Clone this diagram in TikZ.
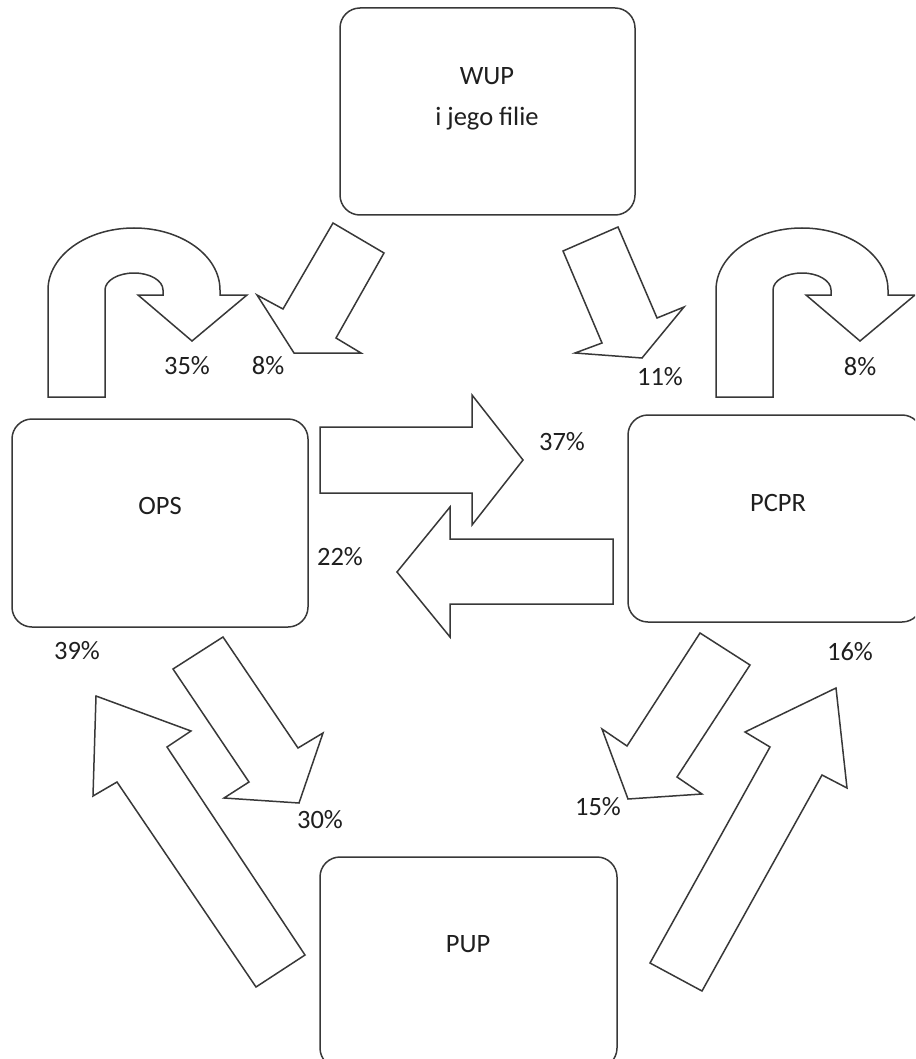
\documentclass[tikz,border=0pt]{standalone}
\usepackage{fontspec}
\setmainfont{Carlito}
\begin{document}
\tikzset{
  outline/.style={draw=black!78, line width=1.5pt, fill=white, line join=miter},
  box/.style={outline, rectangle, rounded corners=20pt, inner sep=0pt},
  txt/.style={font=\fontsize{26.5}{31}\selectfont, text=black!88, inner sep=0pt},
  pct/.style={txt},
  % U-turn block arrow: stem rising on the left, head pointing down on the right
  uturn/.pic={
    \draw[outline] (48,397) -- (48,290)
      arc[start angle=180, end angle=360, x radius=86, y radius=62]
      -- (220,295) -- (247,295) -- (192,341) -- (138,295) -- (163,295) -- (163,290)
      arc[start angle=360, end angle=180, x radius=29, y radius=17]
      -- (105,397) -- cycle;
  }
}
\begin{tikzpicture}[x=1pt, y=-1pt]
\useasboundingbox (0,0) rectangle (915,1059);
\clip (0,0) rectangle (915,1059);

% institutions
\node[box, minimum width=295pt, minimum height=207pt] (wup)  at (487.5,111.5) {};
\node[box, minimum width=296pt, minimum height=208pt] (ops)  at (160,523) {};
\node[box, minimum width=294pt, minimum height=207pt] (pcpr) at (775,518.5) {};
\node[box, minimum width=297pt, minimum height=211pt] (pup)  at (468.5,962.5) {};

\node[txt] (wupA) at (487,76) {WUP};
\node[txt] (wupB) at (487,119) {i jego filie};
\node[txt] (opsT) at (160,506) {OPS};
\node[txt] (pcprT) at (778,503) {PCPR};
\node[txt] (pupT) at (468,944) {PUP};

% flows kept within the same institution
\pic at (0,0) {uturn};
\pic at (668,0) {uturn};

% flows from WUP
\draw[outline] (333,223) -- (384,253) -- (336,338) -- (361,353) -- (294,353) -- (257,295) -- (283,309) -- cycle;
\draw[outline] (563,251) -- (618,227) -- (657,318) -- (684,307) -- (642,358) -- (575,353) -- (602,343) -- cycle;

% flows between OPS and PCPR
\draw[outline] (320,427) -- (472,427) -- (472,395) -- (523,460) -- (472,525) -- (472,493) -- (320,493) -- cycle;
\draw[outline] (613,539) -- (450,539) -- (450,507) -- (397,572) -- (450,637) -- (450,604) -- (613,604) -- cycle;

% flows towards and from PUP
\draw[outline] (173,669) -- (223,637) -- (298,748) -- (323,733) -- (299,803) -- (224,798) -- (249,782) -- cycle;
\draw[outline] (305,955) -- (167,747) -- (191,731) -- (96,696) -- (93,796) -- (117,782) -- (256,987) -- cycle;
\draw[outline] (700,633) -- (750,665) -- (677,777) -- (702,794) -- (628,799) -- (602,729) -- (627,746) -- cycle;
\draw[outline] (650,963) -- (770,747) -- (745,732) -- (836,688) -- (847,788) -- (822,775) -- (702,991) -- cycle;

% shares
\node[pct] (p35) at (187,366) {35\%};
\node[pct] (p8a) at (268,366) {8\%};
\node[pct] (p11) at (660,377) {11\%};
\node[pct] (p8b) at (860,367) {8\%};
\node[pct] (p37) at (562,442) {37\%};
\node[pct] (p22) at (340,557) {22\%};
\node[pct] (p39) at (77,651) {39\%};
\node[pct] (p30) at (320,820) {30\%};
\node[pct] (p15) at (598,807) {15\%};
\node[pct] (p16) at (850,652) {16\%};
\end{tikzpicture}
\end{document}
